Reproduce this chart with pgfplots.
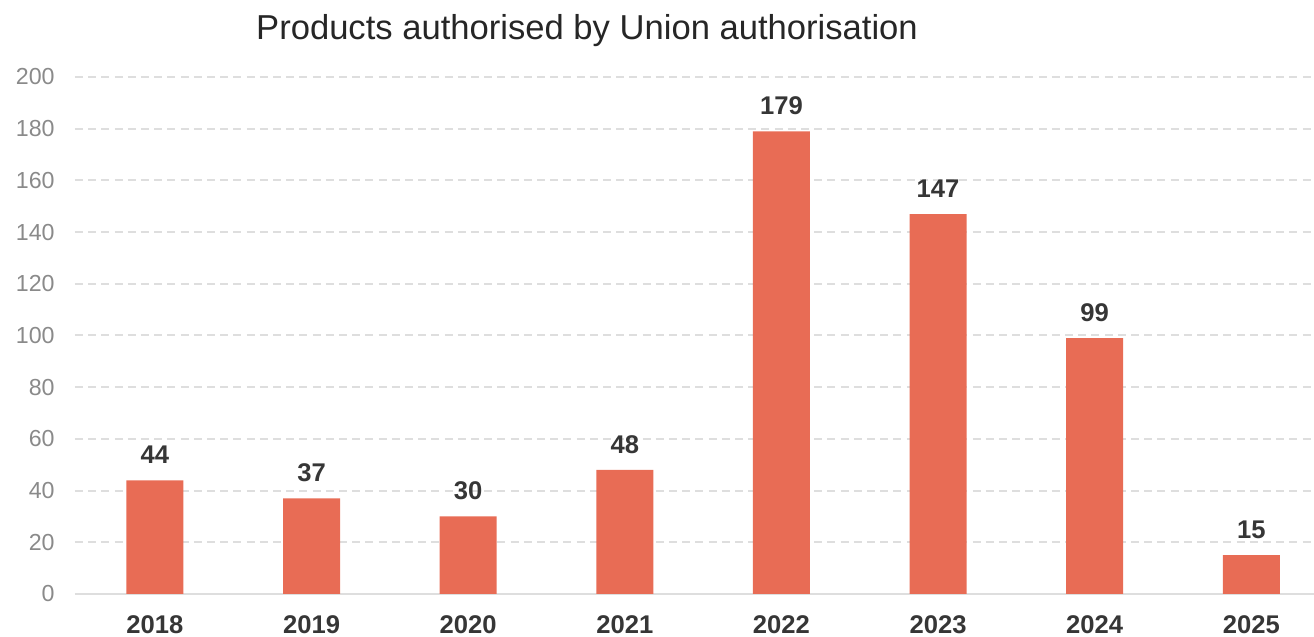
\documentclass[border=0pt]{standalone}
\usepackage{pgfplots}
\pgfplotsset{compat=1.18}
\usepackage{fontspec}
\setmainfont{Liberation Sans}
\definecolor{barc}{HTML}{E86C55}
\definecolor{gridc}{HTML}{DEDEDE}
\definecolor{tickc}{HTML}{8A8A8A}
\definecolor{labc}{HTML}{363636}
\begin{document}
\begin{tikzpicture}
\path[use as bounding box] (-37.5pt,-21.5pt) rectangle (619.5pt,297pt);
\begin{axis}[
  at={(0,0)}, anchor=south west,
  scale only axis, width=619.5pt, height=258.5pt,
  xmin=-0.51, xmax=7.40, ymin=0, ymax=200,
  ytick={0,20,...,200},
  xtick=data,
  xticklabels={2018,2019,2020,2021,2022,2023,2024,2025},
  axis x line=bottom, axis y line=left,
  x axis line style={-, draw=gridc, line width=1pt},
  y axis line style={draw=none},
  major tick length=0pt,
  ymajorgrids,
  grid style={gridc, line width=1pt, dash pattern=on 4pt off 2.6pt},
  /pgf/number format/assume math mode=true,
  yticklabel style={font=\fontsize{11.6pt}{13pt}\selectfont, text=tickc, anchor=east, inner sep=0pt, xshift=-10pt},
  xticklabel style={font=\fontsize{12.8pt}{14pt}\selectfont\bfseries, text=labc, anchor=center, inner sep=0pt, yshift=-15.5pt},
  clip=false,
]
\addplot[ybar, bar width=28.5pt, fill=barc, draw=none,
  nodes near coords,
  every node near coord/.append style={font=\fontsize{12.8pt}{14pt}\selectfont\bfseries, text=labc, anchor=south, inner sep=0pt, yshift=8pt}]
  coordinates {(0,44) (1,37) (2,30) (3,48) (4,179) (5,147) (6,99) (7,15)};
\end{axis}
\node[font=\fontsize{17.3pt}{20pt}\selectfont, text=black!85, anchor=center] at (256pt,281.5pt) {Products authorised by Union authorisation};
\end{tikzpicture}
\end{document}
